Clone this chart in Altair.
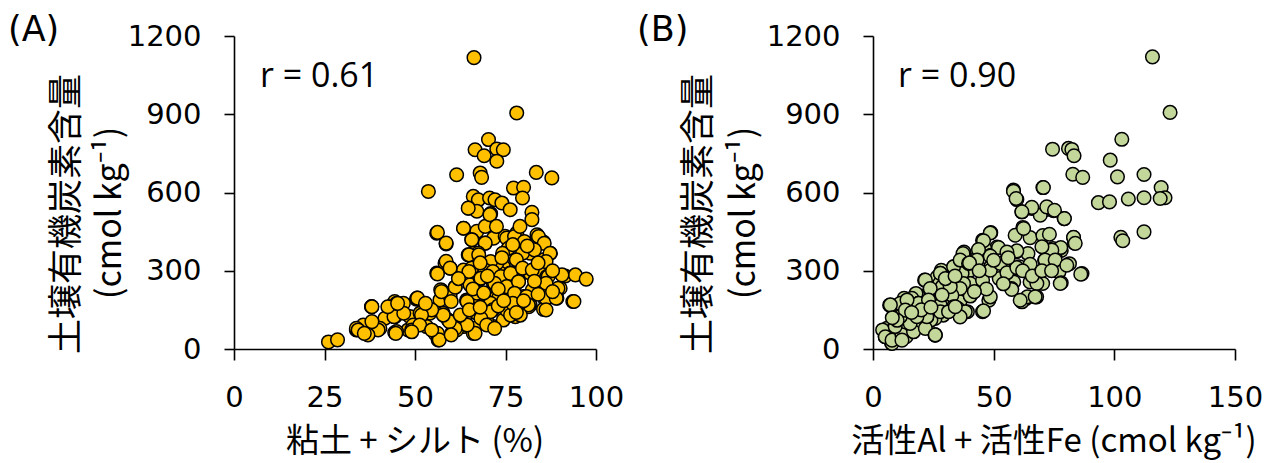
import altair as alt
import pandas as pd

# ---------------- data ----------------
# Panel A: clay + silt (%) vs soil organic carbon (cmol kg-1)
a_pts = [
    (66.3, 1117), (78.1, 905), (70.3, 803), (66.6, 764), (72.6, 767), (74.4, 764), (69.1, 741), (72.6, 720),
    (61.5, 668), (68.0, 675), (68.4, 658), (83.5, 677), (87.8, 656), (53.7, 604), (77.2, 617), (80.0, 620),
    (79.7, 579), (66.1, 585), (67.5, 572), (70.6, 579), (72.1, 572), (64.8, 540), (67.1, 528), (70.9, 519),
    (74.0, 560), (76.3, 534), (82.3, 524), (82.3, 496), (56.0, 444), (58.6, 403), (63.4, 463), (67.1, 451),
    (69.4, 470), (65.7, 419), (69.4, 406), (66.1, 367), (71.7, 425), (74.9, 432), (78.1, 444), (80.4, 408),
    (83.7, 438), (85.5, 410), (87.4, 367), (75.8, 387), (78.1, 342), (81.8, 367), (85.5, 342), (74.4, 316),
    (58.3, 329), (59.7, 310), (56.0, 291), (63.4, 303), (65.7, 303), (68.0, 271), (71.7, 252), (65.2, 246),
    (69.4, 303), (73.5, 291), (76.3, 291), (78.6, 259), (81.8, 291), (84.1, 303), (86.4, 278), (90.1, 233),
    (91.5, 280), (94.3, 284), (97.3, 268), (86.4, 239), (82.7, 229), (57.4, 224), (61.1, 237), (56.9, 188),
    (59.7, 201), (67.1, 207), (70.7, 185), (72.6, 201), (76.3, 214), (79.9, 201), (81.8, 169), (86.0, 188),
    (89.2, 195), (93.6, 182), (85.5, 152), (81.4, 162), (75.4, 150), (70.7, 143), (68.9, 124), (67.1, 137),
    (64.3, 188), (63.8, 111), (59.7, 105), (57.8, 137), (54.1, 137), (51.4, 137), (48.6, 124), (50.4, 191),
    (46.8, 175), (44.4, 182), (43.1, 162), (38.0, 162), (44.4, 124), (41.7, 118), (39.4, 79), (36.6, 60),
    (33.8, 73), (35.7, 92), (44.4, 63), (48.1, 73), (49.5, 92), (53.2, 86), (56.0, 60), (56.5, 41),
    (60.1, 60), (63.4, 86), (66.6, 79), (66.1, 60), (69.8, 98), (71.7, 86), (74.4, 111), (77.7, 124),
    (79.0, 162),
    (64.7, 540), (70.7, 515), (63.4, 463), (56.2, 447), (65.7, 419), (69.4, 406), (58.6, 406), (64.7, 361),
    (67.5, 368), (58.6, 336), (59.7, 310), (56.2, 288), (65.7, 310), (68.0, 271), (71.7, 252), (57.1, 227),
    (61.1, 237), (38.0, 163), (44.9, 175), (50.6, 195), (44.4, 124), (39.4, 79), (33.8, 79), (36.6, 60),
    (44.9, 67), (49.1, 73), (51.4, 137), (55.5, 60), (56.4, 35), (59.2, 111), (61.5, 73), (63.8, 96),
    (67.1, 201), (64.3, 182), (70.7, 150), (69.8, 105),
    (75.3, 425), (77.5, 431), (80.2, 412), (84.1, 431), (85.7, 405), (75.8, 386), (79.7, 367), (83.0, 380),
    (87.3, 367), (74.2, 367), (78.0, 342), (86.2, 335), (72.6, 329), (64.9, 361), (67.6, 361), (70.9, 335),
    (69.3, 303), (64.9, 297), (68.2, 271), (71.5, 297), (73.7, 278), (76.4, 290), (79.7, 310), (82.4, 303),
    (90.6, 284), (86.8, 278), (89.5, 233), (57.3, 220), (67.1, 214), (72.0, 252), (75.3, 239), (78.6, 258),
    (82.4, 226), (86.2, 252), (77.5, 214), (80.8, 201), (86.2, 195), (89.0, 195), (73.1, 195), (50.7, 195),
    (60.0, 182), (64.4, 182), (70.9, 175), (71.5, 150), (75.3, 150), (81.3, 169), (78.6, 169), (86.2, 150),
    (93.9, 182), (76.4, 130), (79.1, 130), (70.9, 143), (68.2, 118), (69.8, 92), (72.0, 79), (66.6, 60),
    (64.4, 92), (61.1, 79), (59.5, 105), (56.2, 60), (56.7, 35), (60.0, 54), (57.8, 130), (54.6, 150),
    (51.8, 130), (51.3, 92), (49.1, 66), (44.7, 60), (44.2, 124), (46.9, 137), (42.5, 162), (45.2, 175),
    (40.3, 79), (38.1, 162), (39.8, 73), (34.3, 73), (37.0, 54), (36.0, 60), (38.1, 105), (52.9, 175),
    (54.6, 73), (26.1, 27), (28.6, 35),
    (62.5, 130), (65.0, 150), (68.0, 160), (73.0, 165), (77.0, 175), (80.0, 185), (84.0, 210), (88.0, 220),
    (73.0, 230), (70.0, 280), (74.0, 350), (77.0, 400), (81.0, 395), (68.0, 330), (62.0, 270), (72.5, 470),
    (79.0, 470), (84.0, 330), (88.0, 300), (83.0, 260), (66.0, 230), (69.0, 215), (74.5, 185), (78.0, 140),
]
a_x = [p[0] for p in a_pts]
a_y = [p[1] for p in a_pts]

# Panel B: active Al + active Fe (cmol kg-1) vs soil organic carbon (cmol kg-1)
b_pts = [
    (48.8, 446), (45.4, 417), (51.4, 391), (46.3, 385), (37.7, 372), (59.3, 372), (64.2, 366), (70.3, 391),
    (74.6, 385), (78.0, 378), (48.8, 359), (42.9, 347), (53.9, 327), (60.8, 315), (71.1, 340), (75.4, 353),
    (81.4, 327), (86.6, 289), (77.1, 296), (36.0, 334), (33.4, 315), (40.3, 302), (43.7, 315), (48.8, 315),
    (55.7, 289), (28.3, 302), (26.6, 276), (21.4, 264), (29.1, 238), (36.9, 289), (40.3, 251), (45.4, 264),
    (52.3, 270), (58.3, 257), (65.1, 257), (70.3, 251), (78.0, 254), (57.4, 232), (63.5, 194), (67.8, 200),
    (61.7, 181), (48.0, 187), (36.0, 181), (40.3, 206), (45.4, 143), (31.7, 213), (35.2, 155), (39.1, 143),
    (29.1, 130), (26.6, 187), (22.9, 213), (17.8, 213), (16.1, 194), (12.9, 194), (10.3, 168), (6.9, 168),
    (18.9, 175), (22.3, 136), (25.7, 117), (25.7, 54), (16.1, 111), (12.9, 92), (11.1, 130), (8.6, 79),
    (6.0, 73), (5.1, 47), (7.7, 22), (10.3, 47), (13.7, 47), (14.6, 79), (20.6, 85), (24.0, 111),
    (33.4, 149), (30.0, 162),
    (58.2, 609), (59.6, 573), (70.4, 619), (65.8, 539), (61.7, 526), (72.0, 535), (74.8, 530), (79.2, 500),
    (69.3, 513), (48.6, 445), (45.8, 415), (52.0, 389), (62.1, 466), (58.9, 436), (65.1, 427), (70.4, 435),
    (73.1, 440), (83.1, 427), (83.4, 407), (77.8, 389), (74.1, 379), (70.0, 392), (59.6, 376), (55.5, 372),
    (48.6, 356), (43.7, 381), (37.3, 366), (33.4, 315), (36.1, 341), (39.6, 328), (43.1, 341), (48.6, 302),
    (52.7, 328), (55.5, 292), (59.6, 312), (65.1, 325), (71.3, 341), (75.5, 341), (80.3, 321), (86.1, 287),
    (77.6, 251), (67.9, 251), (64.0, 200), (67.2, 200), (61.0, 187), (57.5, 228), (48.6, 200), (45.8, 146),
    (40.3, 203), (37.5, 251), (36.1, 232), (32.7, 206), (27.9, 290), (27.6, 251), (21.7, 264), (23.7, 226),
    (28.6, 238), (33.4, 162), (38.2, 143), (36.1, 123), (27.9, 168), (18.9, 175), (22.3, 123), (25.8, 53),
    (17.5, 143), (12.7, 136), (7.2, 168), (11.3, 175), (15.4, 162), (9.9, 98), (5.8, 79), (7.9, 21),
    (5.1, 47), (9.2, 53), (14.1, 85), (19.6, 98), (22.3, 162),
    (27.9, 290), (32.0, 239), (23.7, 232), (18.9, 175), (14.1, 188), (7.2, 169), (4.0, 73), (5.1, 47),
    (7.9, 34), (12.0, 54), (16.8, 66), (15.4, 98), (11.3, 124), (9.2, 86), (21.7, 79), (25.8, 54),
    (22.3, 124), (27.9, 143), (31.3, 143), (34.1, 162), (18.2, 124), (13.4, 149), (28.6, 207), (23.0, 188),
    (12.0, 34),
    (30.0, 270), (34.0, 280), (40.0, 330), (44.0, 300), (50.0, 340), (56.0, 350), (62.0, 300), (66.0, 280),
    (70.0, 300), (74.0, 300), (54.0, 250), (47.0, 230), (42.0, 220), (20.0, 150), (16.0, 140), (24.0, 160),
    (10.0, 110), (8.0, 120),
    (115.8, 1120), (123.1, 907), (103.1, 804), (74.4, 766), (81.0, 769), (82.4, 765), (83.3, 741), (98.3, 724),
    (82.8, 670), (86.9, 658), (101.3, 660), (112.3, 669), (70.6, 619), (58.2, 605), (59.3, 577), (119.4, 619),
    (121.0, 580), (119.0, 577), (93.4, 561), (98.0, 564), (105.8, 575), (112.3, 580), (65.8, 543), (61.7, 526),
    (72.0, 545), (75.2, 532), (79.3, 500), (102.7, 428), (103.5, 415), (112.3, 449), (83.1, 428), (83.8, 405),
    (62.4, 462),
]
b_x = [p[0] for p in b_pts]
b_y = [p[1] for p in b_pts]

Y_TICKS = [0, 300, 600, 900, 1200]
A_XTICKS = [0, 25, 50, 75, 100]
B_XTICKS = [0, 50, 100, 150]

Y_TITLE_1 = "土壌有機炭素含量"
Y_TITLE_2 = "(cmol kg⁻¹)"
A_XTITLE = "粘土 + シルト (%)"
B_XTITLE = "活性Al + 活性Fe (cmol kg⁻¹)"

W, H = 362, 313
CJK = "Noto Sans CJK JP"
LAT = "DejaVu Sans"


def label(text, x, y, size, font, angle=0, align="left", baseline="middle"):
    kw = dict(align=align, baseline=baseline, font=font, fontSize=size, color="#000000")
    if angle:
        kw["angle"] = angle
    return alt.Chart(pd.DataFrame({"t": [text]})).mark_text(**kw).encode(
        text="t:N", x=alt.value(x), y=alt.value(y)
    )


def panel(xs, ys, fill, xmax, xticks, xtitle, letter, rtext, letter_x, t1x, t2x, rx):
    df = pd.DataFrame({"x": xs, "y": ys})
    ax = dict(domainColor="#000000", domainWidth=1.6, tickColor="#000000", tickWidth=1.6,
              labelFont=LAT, labelFontSize=29, labelColor="#000000", grid=False,
              title=None, labelFlush=False, labelOverlap=False, format="d")
    pts = alt.Chart(df).mark_circle(
        size=185, fill=fill, stroke="#000000", strokeWidth=1.5, opacity=1
    ).encode(
        x=alt.X("x:Q", scale=alt.Scale(domain=[0, xmax], nice=False, zero=False),
                axis=alt.Axis(values=xticks, tickSize=11, labelPadding=23, **ax)),
        y=alt.Y("y:Q", scale=alt.Scale(domain=[0, 1200], nice=False),
                axis=alt.Axis(values=Y_TICKS, tickSize=10, labelPadding=23, **ax)),
    )
    return alt.layer(
        pts,
        label(letter, letter_x, -23, 35, LAT, baseline="top"),
        label(rtext, rx, 41, 34, "Open Sans"),
        label(Y_TITLE_1, t1x + 2.6, 178, 35, CJK, angle=270, align="center"),
        label(Y_TITLE_2, t2x, 177, 34, CJK, angle=270, align="center"),
        label(xtitle, W / 2, 406, 33, CJK, align="center"),
    ).properties(width=W, height=H)


pA = panel(a_x, a_y, "#FFC000", 100, A_XTICKS, A_XTITLE, "(A)", "r = 0.61", -226, -170, -123, 26)
pB = panel(b_x, b_y, "#C4D79B", 150, B_XTICKS, B_XTITLE, "(B)", "r = 0.90", -236, -177, -128, 25)

chart = alt.hconcat(pA, pB, spacing=277, bounds="flush").configure_view(stroke=None).properties(
    padding={"left": 0, "top": 5, "right": 0, "bottom": 4}
)

chart.save("out.html", embed_options={"renderer": "svg", "actions": False})
